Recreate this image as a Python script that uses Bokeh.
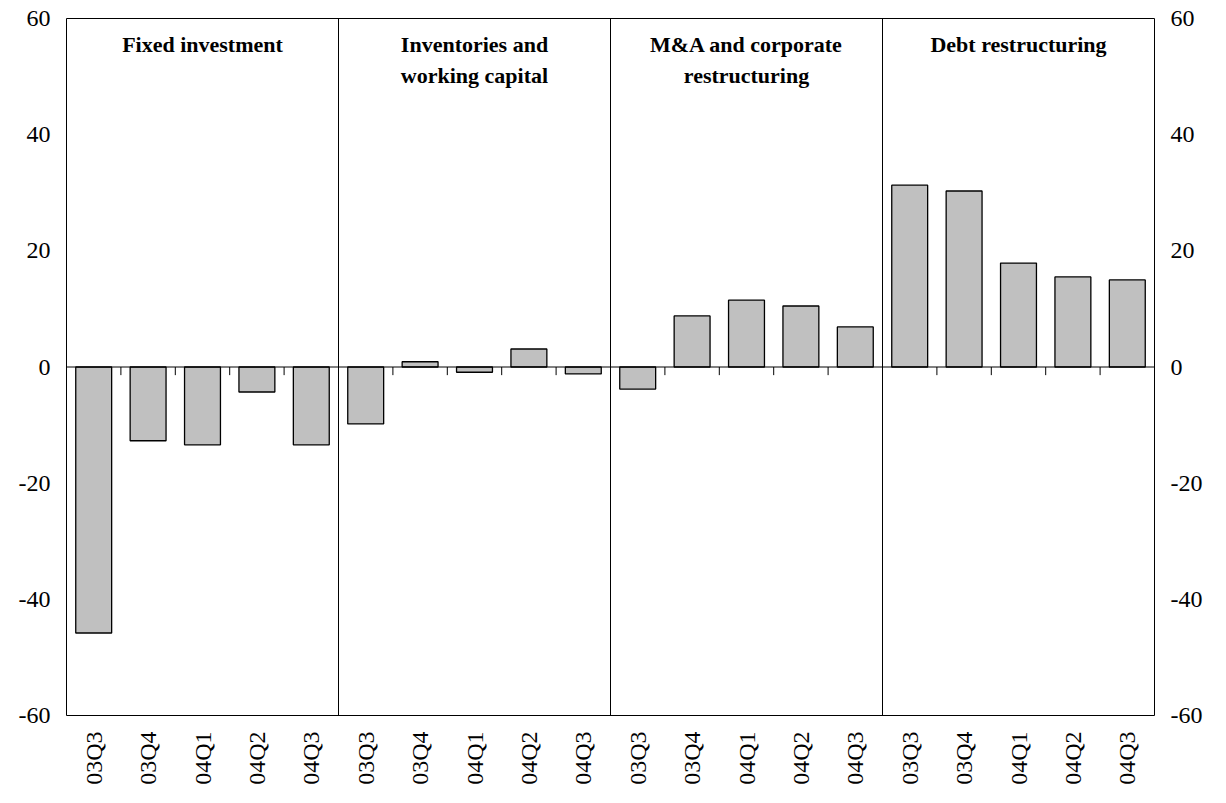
from bokeh.plotting import figure
from bokeh.models import Range1d, FixedTicker, LinearAxis, Span
from bokeh.core.properties import value
from bokeh.embed import file_html
from bokeh.resources import INLINE
import math

quarters = ["03Q3", "03Q4", "04Q1", "04Q2", "04Q3"]
groups = ["Fixed investment", "Inventories and\nworking capital", "M&A and corporate\nrestructuring", "Debt restructuring"]
fixed = [-45.8, -12.7, -13.4, -4.3, -13.4]
inventories = [-9.8, 0.9, -0.9, 3.1, -1.2]
mna = [-3.8, 8.8, 11.5, 10.5, 6.9]
debt = [31.3, 30.3, 17.9, 15.5, 15.0]
y_ticks = [-60, -40, -20, 0, 20, 40, 60]

vals = fixed + inventories + mna + debt
labels = quarters * 4
n = len(vals)
xs = [i + 0.5 for i in range(n)]

FONT = "Liberation Serif"
p = figure(frame_width=1088, frame_height=697, output_backend="svg", toolbar_location=None,
           x_range=Range1d(0, n), y_range=Range1d(-60, 60),
           min_border_left=66, min_border_top=18, min_border_right=10, min_border_bottom=5)
p.outline_line_color = "black"
p.grid.visible = False
p.vbar(x=xs, top=vals, bottom=0, width=0.66, fill_color="#c0c0c0", line_color="black", line_width=1.3)

p.add_layout(Span(location=0, dimension="width", line_color="black", line_width=1))
tx = [i for i in range(1, n) if i % 5 != 0]
p.segment(x0=tx, y0=[0]*len(tx), x1=tx, y1=[-1.4]*len(tx), line_color="black", line_width=1)
for s in (5, 10, 15):
    p.add_layout(Span(location=s, dimension="height", line_color="black", line_width=1))

gx = [2.5, 7.5, 12.5, 17.5]
p.text(x=gx, y=[57.7]*4, text=groups, text_font=value(FONT), text_font_style="bold",
       text_font_size="22px", text_align="center", text_baseline="top", text_line_height=1.25)

p.xaxis.ticker = FixedTicker(ticks=xs)
p.xaxis.major_label_overrides = {x: l for x, l in zip(xs, labels)}
p.xaxis.major_label_orientation = math.pi / 2
p.xaxis.major_tick_line_color = None
p.xaxis.axis_line_color = None
p.xaxis.major_label_text_font = FONT
p.xaxis.major_label_text_font_size = "24px"
p.xaxis.major_label_text_color = "black"
p.xaxis.major_label_standoff = 10

ylab = {t: str(t) for t in y_ticks}
p.yaxis.ticker = FixedTicker(ticks=y_ticks)
right = LinearAxis(ticker=FixedTicker(ticks=y_ticks))
p.add_layout(right, "right")
for ax in p.yaxis:
    ax.major_label_overrides = ylab
    ax.major_tick_line_color = None
    ax.minor_tick_line_color = None
    ax.axis_line_color = None
    ax.major_label_text_font = FONT
    ax.major_label_text_font_size = "24px"
    ax.major_label_text_color = "black"
    ax.major_label_standoff = 10

open("out.html", "w").write(file_html(p, INLINE))
